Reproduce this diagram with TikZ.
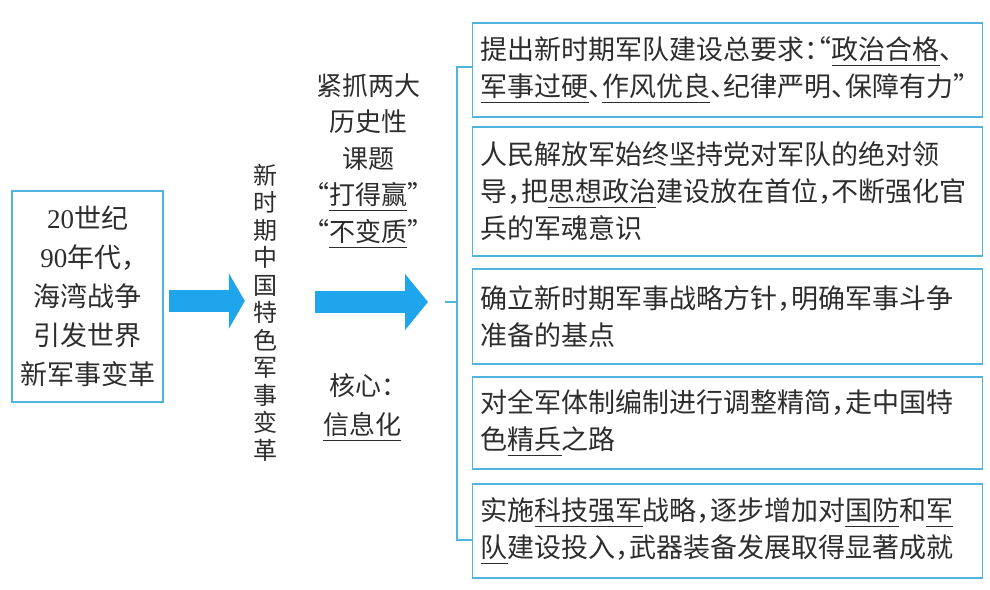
\documentclass[tikz,border=0pt]{standalone}
\usepackage{fontspec}
\setmainfont{Liberation Serif}
\newfontfamily\cjk[RawFeature=+halt]{Noto Sans CJK SC}
\usetikzlibrary{arrows.meta}

\definecolor{boxblue}{RGB}{80,180,220}
\definecolor{arrowblue}{RGB}{30,165,235}
\definecolor{ink}{RGB}{45,45,45}

\newcommand{\ulword}[1]{\leavevmode\setbox0\hbox{#1}\rlap{\rule[-6pt]{\wd0}{0.9pt}}\box0}

\begin{document}
\begin{tikzpicture}[x=1pt, y=-1pt, text=ink,
		cause/.style = {rectangle, draw=boxblue, line width=1.3pt, minimum width=151pt, minimum height=211pt, align=center, font=\cjk\fontsize{27pt}{39pt}\selectfont},
		item/.style  = {rectangle, draw=boxblue, line width=1.3pt, anchor=west, text width=494pt, inner xsep=8pt, inner ysep=0pt, align=left, font=\cjk\fontsize{27pt}{37pt}\selectfont},
		note/.style  = {inner sep=0pt, align=center, font=\cjk\fontsize{26pt}{36.5pt}\selectfont},
		big/.style   = {line width=22pt, draw=arrowblue},
		brk/.style   = {draw=boxblue, line width=1.2pt}
		]
		\useasboundingbox (0,0) rectangle (990,589);
		\coordinate (axis) at (0,301);
		\coordinate (hub)  at (457,302);

		\node[cause]	(cause)	at	(87.5, 296.5)	{{\rmfamily 20}世纪\\{\rmfamily 90}年代，\\海湾战争\\引发世界\\新军事变革};
		\node[note, font=\cjk\fontsize{24pt}{27.5pt}\selectfont]	(revo)	at	(265, 312.5)	{新\\时\\期\\中\\国\\特\\色\\军\\事\\变\\革};
		\node[note]	(task)	at	(368, 160.5)	{紧抓两大\\历史性\\课题\\“\ulword{打得赢}”\\“\ulword{不变质}”};
		\node[note, font=\cjk\fontsize{26pt}{39pt}\selectfont]	(core)	at	(362, 407.5)	{核心：\\\ulword{信息化}};

		\draw[big, -{Triangle[length=16pt, width=55pt]}]	([xshift=5pt]cause.east |- axis)	--	([xshift=-8pt]revo.west |- axis);
		\draw[big, -{Triangle[length=23pt, width=55pt]}]	([xshift=38pt]revo.east |- hub)	--	([xshift=-29pt]hub);

		\node[item, minimum height=94pt]	(b1)	at	(472, 70)	{提出新时期军队建设总要求：“\ulword{政治合格}、\\\ulword{军事过硬}、\ulword{作风优良}、纪律严明、保障有力”};
		\node[item, minimum height=129pt]	(b2)	at	(472, 191.5)	{人民解放军始终坚持党对军队的绝对领\\导，把\ulword{思想政治}建设放在首位，不断强化官\\兵的军魂意识};
		\node[item, minimum height=95pt]	(b3)	at	(472, 316.5)	{确立新时期军事战略方针，明确军事斗争\\准备的基点};
		\node[item, minimum height=92pt]	(b4)	at	(472, 423)	{对全军体制编制进行调整精简，走中国特\\色\ulword{精兵}之路};
		\node[item, minimum height=94pt]	(b5)	at	(472, 531)	{实施\ulword{科技强军}战略，逐步增加对\ulword{国防}和\ulword{军}\\\ulword{队}建设投入，武器装备发展取得显著成就};

		\draw[brk]	(hub)	--	++(-12,0);
		\draw[brk]	([yshift=3pt]b1.west)	-|	(hub)	|-	([yshift=-9pt]b5.west);
\end{tikzpicture}
\end{document}
